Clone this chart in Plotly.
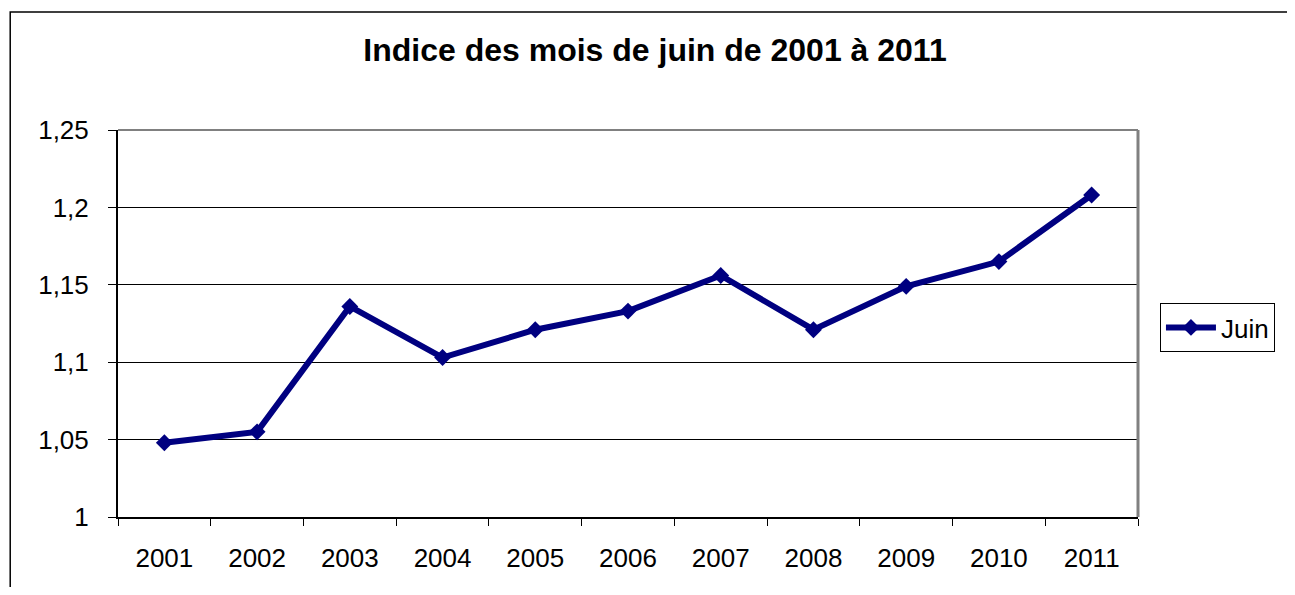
import plotly.graph_objects as go

years = ["2001", "2002", "2003", "2004", "2005", "2006", "2007", "2008", "2009", "2010", "2011"]
juin = [1.048, 1.055, 1.136, 1.103, 1.121, 1.133, 1.156, 1.121, 1.149, 1.165, 1.208]
y_ticks = [1, 1.05, 1.1, 1.15, 1.2, 1.25]
y_labels = ["1", "1,05", "1,1", "1,15", "1,2", "1,25"]

OFF = 8  # page body margin
W, H = 1295 - 2 * OFF, 595 - 2 * OFF
L, R, T, B = 118 - OFF, 1140 - OFF, 130 - OFF, 517 - OFF
pw, ph = R - L, B - T

def px(x):
    return (x - OFF - L) / pw

def py(y):
    return (B - (y - OFF)) / ph

fig = go.Figure()
fig.add_trace(go.Scatter(
    x=years, y=juin, name="Juin", mode="lines+markers",
    line=dict(color="#000080", width=6),
    marker=dict(symbol="diamond", size=13, color="#000080"),
))

font = "Liberation Sans, Arial, sans-serif"
fig.update_layout(
    width=W, height=H,
    margin=dict(l=L, r=W - R, t=T, b=H - B),
    paper_bgcolor="white", plot_bgcolor="white",
    font=dict(family=font, size=26, color="black"),
    title=dict(text="<b>Indice des mois de juin de 2001 à 2011</b>",
               x=(655 - OFF) / W, xref="container", xanchor="center",
               y=1 - (50 - OFF) / H, yref="container", yanchor="middle",
               font=dict(size=32, family=font)),
    showlegend=True,
    legend=dict(x=px(1162), y=py(303), xanchor="left", yanchor="top",
                bordercolor="black", borderwidth=1, bgcolor="white",
                font=dict(size=26), itemwidth=50),
    xaxis=dict(type="category", tickson="boundaries", ticks="outside", ticklen=7,
               tickcolor="black", tickwidth=1, showgrid=False,
               showline=True, linecolor="black", linewidth=2,
               range=[-0.5, 10.5], ticklabelstandoff=17),
    yaxis=dict(range=[1, 1.25], tickvals=y_ticks, ticktext=y_labels,
               ticks="outside", ticklen=8, tickcolor="black", tickwidth=1,
               showgrid=True, gridcolor="black", gridwidth=1,
               showline=True, linecolor="black", linewidth=2,
               zeroline=False, ticklabelstandoff=14),
    shapes=[
        dict(type="line", xref="paper", yref="paper", x0=0, x1=1, y0=1, y1=1,
             line=dict(color="#808080", width=2)),
        dict(type="line", xref="paper", yref="paper", x0=1, x1=1, y0=0, y1=1,
             line=dict(color="#808080", width=3)),
        dict(type="rect", xref="paper", yref="paper",
             x0=px(10), x1=px(1400), y0=py(12), y1=py(700),
             line=dict(color="black", width=1.5)),
    ],
)

fig.write_html("out.html")
